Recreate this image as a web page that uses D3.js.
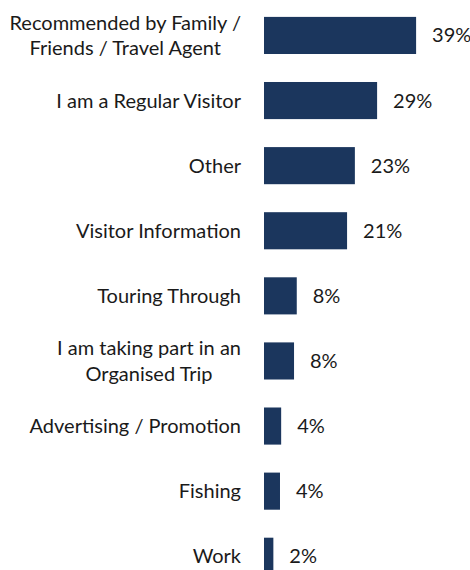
<!DOCTYPE html>
<html>
<head>
<meta charset="utf-8">
<script src="https://cdn.jsdelivr.net/npm/d3@7"></script>
<style>
  html, body { margin: 0; padding: 0; background: #ffffff; }
  svg { display: block; }
  text { font-family: Lato, "Open Sans", sans-serif; fill: #1a1a1a; }
</style>
</head>
<body>
<svg id="chart" width="470" height="570"></svg>
<script>
// Reasons for visiting (share of respondents, %)
const categories = [
  "Recommended by Family /\nFriends / Travel Agent",
  "I am a Regular Visitor",
  "Other",
  "Visitor Information",
  "Touring Through",
  "I am taking part in an\nOrganised Trip",
  "Advertising / Promotion",
  "Fishing",
  "Work"
];
const values = [39, 29, 23.3, 21.3, 8.4, 7.7, 4.4, 4.1, 2.4];

const svg = d3.select("#chart");
const fontSize = 20;
const barColor = "#1b365d";
const labelRight = 241;

const x = d3.scaleLinear().domain([0, 40]).range([264, 420]);
const y = d3.scaleBand()
  .domain(categories)
  .range([2.9, 2.9 + 9 * 65.1])
  .paddingInner(0.43)
  .paddingOuter(0.215);

const data = categories.map((c, i) => ({ c, v: values[i] }));

const rows = svg.append("g").selectAll("g")
  .data(data)
  .join("g");

rows.append("rect")
  .attr("x", x(0))
  .attr("y", d => y(d.c))
  .attr("width", d => x(d.v) - x(0))
  .attr("height", y.bandwidth())
  .attr("fill", barColor);

rows.append("text")
  .attr("x", d => x(d.v) + 16)
  .attr("y", d => y(d.c) + y.bandwidth() / 2)
  .attr("dy", "0.35em")
  .style("font-size", fontSize + "px")
  .text(d => Math.round(d.v) + "%");

// Category labels: block right-aligned to the bars, wrapped lines centred within it
const lineGap = 25.5;
rows.append("text")
  .style("font-size", fontSize + "px")
  .each(function(d) {
    const lines = d.c.split("\n");
    const cy = y(d.c) + y.bandwidth() / 2;
    const first = cy - (lines.length - 1) * lineGap / 2;
    const t = d3.select(this);
    const spans = t.selectAll("tspan")
      .data(lines)
      .join("tspan")
      .attr("y", (l, i) => first + i * lineGap)
      .attr("dy", "0.35em")
      .text(l => l);
    let w = 0;
    spans.each(function() { w = Math.max(w, this.getComputedTextLength()); });
    spans.attr("x", labelRight - w / 2).attr("text-anchor", "middle");
  });
</script>
</body>
</html>
